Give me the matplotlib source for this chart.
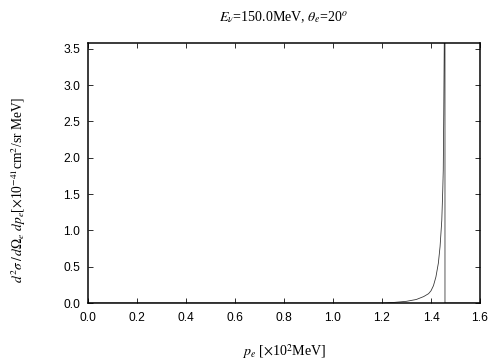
import matplotlib
matplotlib.use('Agg')
import matplotlib.pyplot as plt

# 読み取った値 (p_e [x10^2 MeV], 断面積)
p_e = [0.0, 1.20, 1.25, 1.30, 1.34, 1.37, 1.39, 1.40, 1.41, 1.42,
       1.43, 1.437, 1.444, 1.448, 1.450, 1.452, 1.454, 1.456, 1.457, 1.457, 1.6]
sigma = [0.0, 0.0, 0.01, 0.025, 0.05, 0.09, 0.13, 0.17, 0.24, 0.36,
         0.55, 0.78, 1.14, 1.56, 1.83, 2.6, 3.55, 4.2, 4.5, 0.0, 0.0]

xticks = [0.0, 0.2, 0.4, 0.6, 0.8, 1.0, 1.2, 1.4, 1.6]
yticks = [0.0, 0.5, 1.0, 1.5, 2.0, 2.5, 3.0, 3.5]

plt.rcParams['mathtext.fontset'] = 'stix'
plt.rcParams['font.family'] = ['Liberation Sans', 'DejaVu Sans']

fig = plt.figure(figsize=(7, 5), dpi=72)
ax = fig.add_axes([0.1746, 0.158, 0.7778, 0.7226])

ax.plot(p_e, sigma, color='#333333', lw=0.8)

ax.set_xlim(0, 1.6)
ax.set_ylim(0, 3.58)
ax.set_xticks(xticks)
ax.set_yticks(yticks)
ax.set_xticklabels(['%.1f' % v for v in xticks])
ax.set_yticklabels(['%.1f' % v for v in yticks])
ax.tick_params(direction='in', length=5, width=0.8, top=True, right=True,
               labelsize=12)
ax.tick_params(axis='x', pad=9)
ax.tick_params(axis='y', pad=8)
for s in ax.spines.values():
    s.set_linewidth(1.5)

fig.text(0.5635, 0.953, r'$E_\nu$=150.0MeV, $\theta_e$=20$^o$',
         family='Liberation Serif', size=14, ha='center', va='center')
fig.text(0.5635, 0.022, r'$p_e$ [$\times$10$^2$MeV]',
         family='Liberation Serif', size=14, ha='center', va='center')
fig.text(0.036, 0.472,
         r'$d^2\sigma\,/\,d\Omega_e\ dp_e$[$\times$10$^{-41}$cm$^2$/sr MeV]',
         family='Liberation Serif', size=13.5, ha='center', va='center',
         rotation=90)

fig.savefig('out.png', dpi=72)
